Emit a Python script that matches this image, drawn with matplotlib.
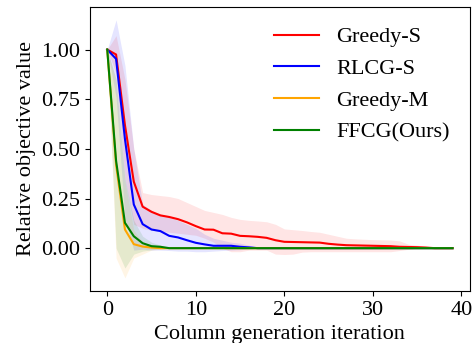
import numpy as np
import matplotlib.pyplot as plt

plt.rcParams['font.family'] = ['Liberation Serif', 'DejaVu Serif']
plt.rcParams['font.size'] = 16

iters = np.arange(40)
pad = [0.0] * 20

# Greedy-S
gs_mean = [1.0, 0.975, 0.62, 0.335, 0.209, 0.183, 0.165, 0.157, 0.146, 0.13,
           0.111, 0.094, 0.093, 0.075, 0.073, 0.062, 0.06, 0.057, 0.052, 0.04,
           0.032, 0.031, 0.03, 0.029, 0.028, 0.022, 0.018, 0.015, 0.014, 0.013,
           0.012, 0.011, 0.01, 0.007, 0.006, 0.005, 0.003, 0.0, 0.0, 0.0]
gs_hi = [1.0, 1.07, 0.85, 0.5, 0.28, 0.27, 0.265, 0.26, 0.25, 0.23,
         0.21, 0.19, 0.18, 0.17, 0.155, 0.145, 0.14, 0.137, 0.133, 0.12,
         0.097, 0.093, 0.089, 0.084, 0.08, 0.07, 0.06, 0.05, 0.047, 0.045,
         0.043, 0.042, 0.041, 0.037, 0.02, 0.015, 0.01, 0.005, 0.0, 0.0]
gs_lo = [1.0, 0.88, 0.35, 0.12, 0.1, 0.09, 0.085, 0.08, 0.075, 0.07,
         0.065, 0.05, 0.03, 0.0, -0.018, -0.018, -0.01, -0.01, -0.01, -0.03,
         -0.032, -0.03, -0.02, -0.018, -0.018, -0.018, -0.018, -0.018, -0.018, -0.018,
         -0.018, -0.018, -0.018, -0.012, -0.006, 0.0, 0.0, 0.0, 0.0, 0.0]

# RLCG-S
rl_mean = [1.0, 0.953, 0.55, 0.22, 0.121, 0.094, 0.086, 0.062, 0.054, 0.04,
           0.027, 0.019, 0.012, 0.012, 0.012, 0.007, 0.004, 0.0, 0.0, 0.0] + pad
rl_hi = [1.0, 1.15, 0.92, 0.5, 0.22, 0.19, 0.17, 0.155, 0.14, 0.12,
         0.1, 0.07, 0.05, 0.04, 0.03, 0.025, 0.015, 0.005, 0.0, 0.0] + pad
rl_lo = [1.0, 0.76, 0.15, -0.01, -0.005, -0.01, -0.01, -0.012, -0.015, -0.015,
         -0.018, -0.018, -0.015, -0.012, -0.01, -0.008, -0.005, 0.0, 0.0, 0.0] + pad

# Greedy-M
gm_mean = [1.0, 0.42, 0.094, 0.02, 0.008, 0.003, 0.0, 0.0, 0.0, 0.0] + pad + [0.0] * 10
gm_hi = [1.0, 0.85, 0.34, 0.09, 0.03, 0.015, 0.005, 0.0, 0.0, 0.0] + pad + [0.0] * 10
gm_lo = [1.0, -0.05, -0.15, -0.05, -0.03, -0.01, -0.005, 0.0, 0.0, 0.0] + pad + [0.0] * 10

# FFCG(Ours)
ff_mean = [1.0, 0.44, 0.128, 0.06, 0.025, 0.01, 0.007, 0.0, 0.0, 0.0] + pad + [0.0] * 10
ff_hi = [1.0, 0.85, 0.35, 0.14, 0.06, 0.03, 0.015, 0.0, 0.0, 0.0] + pad + [0.0] * 10
ff_lo = [1.0, 0.0, -0.1, -0.03, -0.015, -0.008, -0.004, 0.0, 0.0, 0.0] + pad + [0.0] * 10

series = [
    ('Greedy-S', gs_mean, gs_lo, gs_hi, 'red'),
    ('RLCG-S', rl_mean, rl_lo, rl_hi, 'blue'),
    ('Greedy-M', gm_mean, gm_lo, gm_hi, 'orange'),
    ('FFCG(Ours)', ff_mean, ff_lo, ff_hi, 'green'),
]

fig = plt.figure(figsize=(4.76, 3.43), dpi=100)
ax = fig.add_axes([0.189, 0.152, 0.798, 0.828])

for name, m, lo, hi, c in series:
    ax.fill_between(iters, lo, hi, color=c, alpha=0.1, linewidth=0)
for name, m, lo, hi, c in series:
    ax.plot(iters, m, color=c, lw=1.5, label=name)

ax.set_xticks([0, 10, 20, 30, 40])
ax.set_yticks([0.0, 0.25, 0.5, 0.75, 1.0])
ax.set_xlabel('Column generation iteration')
ax.set_ylabel('Relative objective value')
ax.legend(frameon=False, loc='upper right')

fig.savefig('out.png', dpi=100)
